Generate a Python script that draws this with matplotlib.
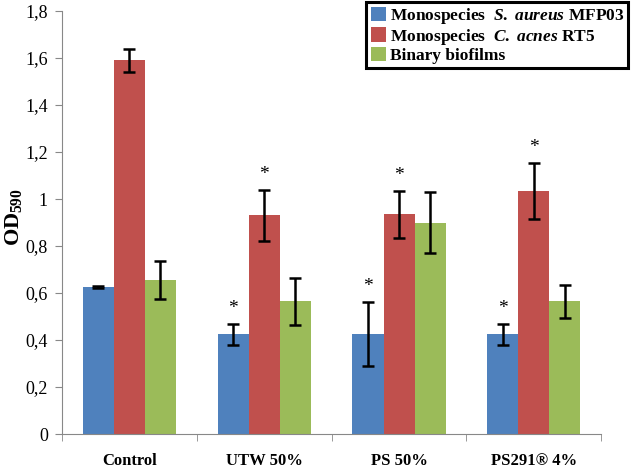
import matplotlib.pyplot as plt
import numpy as np
from matplotlib.ticker import FuncFormatter

plt.rcParams['font.family'] = ['Liberation Serif', 'DejaVu Serif']
plt.rcParams['mathtext.fontset'] = 'custom'
plt.rcParams['mathtext.rm'] = 'Liberation Serif:bold'
plt.rcParams['mathtext.it'] = 'Liberation Serif:italic:bold'
plt.rcParams['mathtext.bf'] = 'Liberation Serif:bold'

# data
groups = ['Control', 'UTW 50%', 'PS 50%', 'PS291® 4%']
series = [r'Monospecies  $\mathit{S.\ aureus}$ MFP03',
          r'Monospecies  $\mathit{C.\ acnes}$ RT5',
          'Binary biofilms']
aureus = [0.625, 0.425, 0.425, 0.425]
aureus_err = [0.005, 0.045, 0.135, 0.045]
acnes = [1.59, 0.93, 0.935, 1.035]
acnes_err = [0.05, 0.11, 0.10, 0.12]
binary = [0.655, 0.565, 0.90, 0.565]
binary_err = [0.08, 0.10, 0.13, 0.07]
# which bars carry a significance star
aureus_star = [False, True, True, True]
acnes_star = [False, True, True, True]

colors = ['#4F81BD', '#C0504D', '#9BBB59']

fig = plt.figure(figsize=(6.31, 4.72), dpi=100)
ax = fig.add_axes([0.098, 0.0805, 0.855, 0.896])

x = np.arange(len(groups))
w = 0.23
vals = [aureus, acnes, binary]
errs = [aureus_err, acnes_err, binary_err]
stars = [aureus_star, acnes_star, [False] * 4]
for i in range(3):
    pos = x + (i - 1) * w
    ax.bar(pos, vals[i], w, color=colors[i], label=series[i])
    ax.errorbar(pos, vals[i], yerr=errs[i], fmt='none', ecolor='black',
                elinewidth=1.8, capsize=4, capthick=1.8)
    for p, v, e, s in zip(pos, vals[i], errs[i], stars[i]):
        if s:
            ax.text(p, v + e + 0.03, '*', ha='center', va='bottom', fontsize=14)

ax.set_xlim(-0.5, len(groups) - 0.5)
ax.set_ylim(0, 1.8)
ax.set_yticks(np.arange(0, 1.81, 0.2))
ax.yaxis.set_major_formatter(FuncFormatter(lambda v, p: ('%g' % round(v, 1)).replace('.', ',')))
ax.set_xticks(x)
ax.set_xticklabels(groups, fontweight='bold', fontsize=12)
ax.set_xticks(np.arange(-0.5, len(groups)), minor=True)
ax.tick_params(axis='x', which='major', length=0, pad=14)
ax.tick_params(axis='x', which='minor', length=5, color='#888888')
ax.tick_params(axis='y', length=5, color='#888888', labelsize=13, pad=5)
for s in ['top', 'right']:
    ax.spines[s].set_visible(False)
for s in ['left', 'bottom']:
    ax.spines[s].set_color('#888888')

fig.text(0.022, 0.54, r'OD$_{590}$', rotation=90, ha='center', va='center',
         fontsize=16, fontweight='bold')

leg = fig.legend(loc='upper right', bbox_to_anchor=(0.996, 0.996), borderaxespad=0,
                 fancybox=False, edgecolor='black', framealpha=1, handlelength=0.9,
                 handleheight=0.9, handletextpad=0.2, borderpad=0.25, labelspacing=0.02,
                 prop={'weight': 'bold', 'size': 12.5})
leg.get_frame().set_linewidth(2.2)

fig.savefig('out.png', dpi=100)
